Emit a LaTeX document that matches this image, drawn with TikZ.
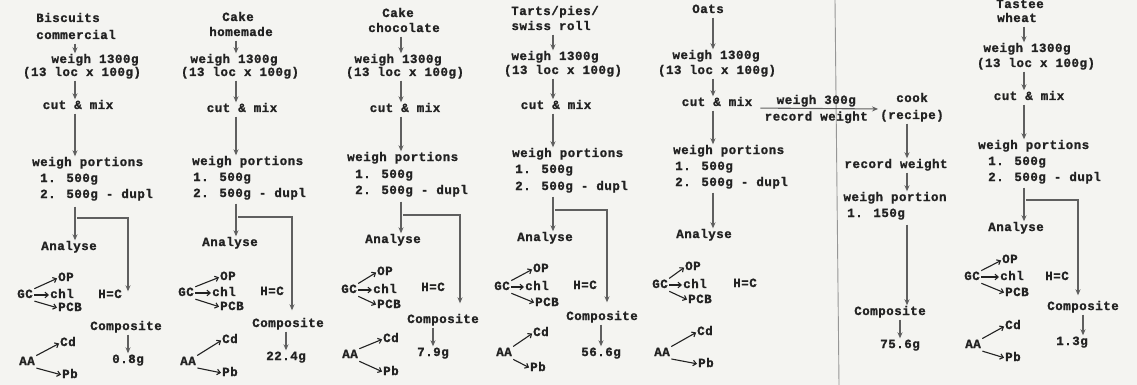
\documentclass[tikz,border=0pt]{standalone}
\usepackage{fontspec}
\newfontfamily\tw{Liberation Mono}[LetterSpace=4, BoldFeatures={FakeBold=1.2}]
\usetikzlibrary{arrows.meta,calc}
\definecolor{paper}{RGB}{244,244,241}
\definecolor{ink}{RGB}{34,34,34}
\definecolor{lin}{RGB}{95,95,95}
\definecolor{foldc}{RGB}{150,150,150}
\tikzset{
  tx/.style={inner sep=0pt, text height=8.5pt, text depth=2.5pt, text=ink,
    font={\tw\bfseries\fontsize{12.5}{16}\selectfont}},
  arr/.style={draw=lin, line width=1.1pt, -{Stealth[length=6pt,width=5pt]},
    shorten <=2pt, shorten >=1pt},
  br/.style={draw=lin, line width=1.6pt},
  sa/.style={draw=ink, line width=1.1pt, -{Straight Barb[length=3.2pt,width=5.5pt]},
    shorten <=1.5pt, shorten >=1pt}
}
\begin{document}
\begin{tikzpicture}[x=1pt,y=-1pt]
\useasboundingbox (0,0) rectangle (1137,385);
\fill[paper] (0,0) rectangle (1137,385);
\draw[foldc, line width=0.9pt] (835,0) -- (839,385);

% ---------- column 1 : Biscuits commercial
\coordinate (ax) at (75,0);
\node[tx] (a1) at (68,19) {Biscuits};
\node[tx] (a2) at (76,36) {commercial};
\node[tx] (a3) at (95,60) {weigh 1300g};
\node[tx] (a4) at (82,73) {(13 loc x 100g)};
\node[tx] (a5) at (78,106) {cut \& mix};
\node[tx,anchor=west] (a6) at (32,163) {weigh portions};
\node[tx,anchor=west] (a7) at (40,179) {1. 500g};
\node[tx,anchor=west] (a8) at (40,195) {2. 500g - dupl};
\node[tx] (a9) at (69,247) {Analyse};
\node[tx] (a10) at (25,295) {GC};
\node[tx,anchor=west] (a11) at (58,278) {OP};
\node[tx,anchor=west] (a12) at (50,295) {chl};
\node[tx,anchor=west] (a13) at (58,308) {PCB};
\node[tx] (a14) at (110,295) {H=C};
\node[tx] (a15) at (126,327) {Composite};
\node[tx] (a16) at (128,360) {0.8g};
\node[tx] (a17) at (27,362) {AA};
\node[tx,anchor=west] (a18) at (60,343) {Cd};
\node[tx,anchor=west] (a19) at (62,375) {Pb};
\draw[arr] (a2.south -| ax) -- (a3.north -| ax);
\draw[arr] (a4.south -| ax) -- (a5.north -| ax);
\draw[arr] (a5.south -| ax) -- (a6.north -| ax);
\draw[br,arr,shorten <=6pt] (a8.south -| ax) -- (a9.north -| ax);
\coordinate (aj) at (75,218); \coordinate (ak) at (128,218);
\draw[br,arr,shorten >=30pt] (aj) -- (ak) -- (ak |- a15.north);
\draw[arr] (a15.south -| a16) -- (a16.north);
\draw[sa] (a10.north east) -- (a11.west);
\draw[sa] (a10.east) -- (a12.west);
\draw[sa] (a10.south east) -- (a13.west);
\draw[sa] (a17.north east) -- (a18.west);
\draw[sa] (a17.south east) -- (a19.west);

% ---------- column 2 : Cake homemade
\coordinate (bx) at (236,0);
\node[tx] (b1) at (238,18) {Cake};
\node[tx] (b2) at (241,33) {homemade};
\node[tx] (b3) at (234,60) {weigh 1300g};
\node[tx] (b4) at (240,73) {(13 loc x 100g)};
\node[tx] (b5) at (242,109) {cut \& mix};
\node[tx,anchor=west] (b6) at (192,162) {weigh portions};
\node[tx,anchor=west] (b7) at (193,178) {1. 500g};
\node[tx,anchor=west] (b8) at (193,194) {2. 500g - dupl};
\node[tx] (b9) at (230,243) {Analyse};
\node[tx] (b10) at (186,293) {GC};
\node[tx,anchor=west] (b11) at (220,277) {OP};
\node[tx,anchor=west] (b12) at (212,293) {chl};
\node[tx,anchor=west] (b13) at (220,307) {PCB};
\node[tx] (b14) at (272,292) {H=C};
\node[tx] (b15) at (288,324) {Composite};
\node[tx] (b16) at (286,357) {22.4g};
\node[tx] (b17) at (188,362) {AA};
\node[tx,anchor=west] (b18) at (222,340) {Cd};
\node[tx,anchor=west] (b19) at (222,373) {Pb};
\draw[arr] (b2.south -| bx) -- (b3.north -| bx);
\draw[arr] (b4.south -| bx) -- (b5.north -| bx);
\draw[arr] (b5.south -| bx) -- (b6.north -| bx);
\draw[br,arr,shorten <=4pt] (b8.south -| bx) -- (b9.north -| bx);
\coordinate (bj) at (236,217); \coordinate (bk) at (292,217);
\draw[br,arr,shorten >=8pt] (bj) -- (bk) -- (bk |- b15.north);
\draw[arr] (b15.south -| b16) -- (b16.north);
\draw[sa] (b10.north east) -- (b11.west);
\draw[sa] (b10.east) -- (b12.west);
\draw[sa] (b10.south east) -- (b13.west);
\draw[sa] (b17.north east) -- (b18.west);
\draw[sa] (b17.south east) -- (b19.west);

% ---------- column 3 : Cake chocolate
\coordinate (cx) at (401,0);
\node[tx] (c1) at (398,14) {Cake};
\node[tx] (c2) at (404,29) {chocolate};
\node[tx] (c3) at (398,60) {weigh 1300g};
\node[tx] (c4) at (405,73) {(13 loc x 100g)};
\node[tx] (c5) at (405,109) {cut \& mix};
\node[tx,anchor=west] (c6) at (347,158) {weigh portions};
\node[tx,anchor=west] (c7) at (355,175) {1.  500g};
\node[tx,anchor=west] (c8) at (355,191) {2. 500g - dupl};
\node[tx] (c9) at (393,240) {Analyse};
\node[tx] (c10) at (349,290) {GC};
\node[tx,anchor=west] (c11) at (377,272) {OP};
\node[tx,anchor=west] (c12) at (373,290) {chl};
\node[tx,anchor=west] (c13) at (377,305) {PCB};
\node[tx] (c14) at (433,288) {H=C};
\node[tx] (c15) at (443,320) {Composite};
\node[tx] (c16) at (433,353) {7.9g};
\node[tx] (c17) at (350,355) {AA};
\node[tx,anchor=west] (c18) at (383,339) {Cd};
\node[tx,anchor=west] (c19) at (383,372) {Pb};
\draw[arr] (c2.south -| cx) -- (c3.north -| cx);
\draw[arr] (c4.south -| cx) -- (c5.north -| cx);
\draw[arr] (c5.south -| cx) -- (c6.north -| cx);
\draw[br,arr,shorten <=5pt] (c8.south -| cx) -- (c9.north -| cx);
\coordinate (cj) at (401,215); \coordinate (ck) at (460,215);
\draw[br,arr,shorten >=11pt] (cj) -- (ck) -- (ck |- c15.north);
\draw[arr] (c15.south -| c16) -- (c16.north);
\draw[sa] (c10.north east) -- (c11.west);
\draw[sa] (c10.east) -- (c12.west);
\draw[sa] (c10.south east) -- (c13.west);
\draw[sa] (c17.north east) -- (c18.west);
\draw[sa] (c17.south east) -- (c19.west);

% ---------- column 4 : Tarts/pies/swiss roll
\coordinate (dx) at (553,0);
\node[tx] (d1) at (555,12) {Tarts/pies/};
\node[tx] (d2) at (551,27) {swiss roll};
\node[tx] (d3) at (555,57) {weigh 1300g};
\node[tx] (d4) at (563,71) {(13 loc x 100g)};
\node[tx] (d5) at (556,106) {cut \& mix};
\node[tx,anchor=west] (d6) at (512,154) {weigh portions};
\node[tx,anchor=west] (d7) at (515,170) {1. 500g};
\node[tx,anchor=west] (d8) at (515,187) {2. 500g - dupl};
\node[tx] (d9) at (545,238) {Analyse};
\node[tx] (d10) at (502,287) {GC};
\node[tx,anchor=west] (d11) at (533,269) {OP};
\node[tx,anchor=west] (d12) at (525,287) {chl};
\node[tx,anchor=west] (d13) at (535,303) {PCB};
\node[tx] (d14) at (585,286) {H=C};
\node[tx] (d15) at (602,317) {Composite};
\node[tx] (d16) at (601,353) {56.6g};
\node[tx] (d17) at (504,353) {AA};
\node[tx,anchor=west] (d18) at (533,333) {Cd};
\node[tx,anchor=west] (d19) at (530,368) {Pb};
\draw[arr] (d2.south -| dx) -- (d3.north -| dx);
\draw[arr] (d4.south -| dx) -- (d5.north -| dx);
\draw[arr] (d5.south -| dx) -- (d6.north -| dx);
\draw[br,arr,shorten <=4pt] (d8.south -| dx) -- (d9.north -| dx);
\coordinate (dj) at (553,210); \coordinate (dk) at (607,210);
\draw[br,arr,shorten >=9pt] (dj) -- (dk) -- (dk |- d15.north);
\draw[arr] (d15.south -| d16) -- (d16.north);
\draw[sa] (d10.north east) -- (d11.west);
\draw[sa] (d10.east) -- (d12.west);
\draw[sa] (d10.south east) -- (d13.west);
\draw[sa] (d17.north east) -- (d18.west);
\draw[sa] (d17.south east) -- (d19.west);

% ---------- column 5 : Oats
\coordinate (ex) at (713,0);
\coordinate (fx2) at (907,0);
\node[tx] (e1) at (708,10) {Oats};
\node[tx] (e2) at (716,56) {weigh 1300g};
\node[tx] (e3) at (717,71) {(13 loc x 100g)};
\node[tx] (e4) at (717,103) {cut \& mix};
\node[tx,anchor=west] (e5) at (673,151) {weigh portions};
\node[tx,anchor=west] (e6) at (675,167) {1. 500g};
\node[tx,anchor=west] (e7) at (675,183) {2. 500g - dupl};
\node[tx] (e8) at (704,235) {Analyse};
\node[tx] (e9) at (660,285) {GC};
\node[tx,anchor=west] (e10) at (685,267) {OP};
\node[tx,anchor=west] (e11) at (683,285) {chl};
\node[tx,anchor=west] (e12) at (688,300) {PCB};
\node[tx] (e13) at (745,284) {H=C};
\node[tx] (e14) at (662,353) {AA};
\node[tx,anchor=west] (e15) at (697,332) {Cd};
\node[tx,anchor=west] (e16) at (698,364) {Pb};
\node[tx] (e17) at (912,99) {cook};
\node[tx] (e18) at (912,116) {(recipe)};
\node[tx] (e21) at (896,165) {record weight};
\node[tx] (e22) at (895,198) {weigh portion};
\node[tx,anchor=west] (e23) at (847,214) {1. 150g};
\node[tx] (e24) at (890,312) {Composite};
\node[tx] (e25) at (900,345) {75.6g};
\draw[arr] (e1.south -| ex) -- (e2.north -| ex);
\draw[arr] (e3.south -| ex) -- (e4.north -| ex);
\draw[arr] (e4.south -| ex) -- (e5.north -| ex);
\draw[arr,shorten <=4pt] (e7.south -| ex) -- (e8.north -| ex);
\draw[arr,shorten <=8pt,shorten >=2pt] ([yshift=-5pt]e4.east) --
  node[tx,midway,above=1.5pt] (e19) {weigh 300g}
  node[tx,midway,below=3pt] (e20) {record weight}
  ([yshift=7pt]e18.west);
\draw[arr] (e18.south -| fx2) -- (e21.north -| fx2);
\draw[arr] (e21.south -| fx2) -- (e22.north -| fx2);
\draw[arr,shorten <=5pt] (e23.south -| fx2) -- (e24.north -| fx2);
\draw[arr] (e24.south -| e25) -- (e25.north);
\draw[sa] (e9.north east) -- (e10.west);
\draw[sa] (e9.east) -- (e11.west);
\draw[sa] (e9.south east) -- (e12.west);
\draw[sa] (e14.north east) -- (e15.west);
\draw[sa] (e14.south east) -- (e16.west);

% ---------- column 6 : Tastee wheat
\coordinate (gx) at (1024,0);
\node[tx] (g1) at (1020,5) {Tastee};
\node[tx] (g2) at (1017,19) {wheat};
\node[tx] (g3) at (1027,49) {weigh 1300g};
\node[tx] (g4) at (1036,64) {(13 loc x 100g)};
\node[tx] (g5) at (1029,97) {cut \& mix};
\node[tx,anchor=west] (g6) at (978,146) {weigh portions};
\node[tx,anchor=west] (g7) at (988,162) {1. 500g};
\node[tx,anchor=west] (g8) at (988,178) {2. 500g - dupl};
\node[tx] (g9) at (1016,228) {Analyse};
\node[tx] (g10) at (972,277) {GC};
\node[tx,anchor=west] (g11) at (1002,260) {OP};
\node[tx,anchor=west] (g12) at (1000,277) {chl};
\node[tx,anchor=west] (g13) at (1005,293) {PCB};
\node[tx] (g14) at (1057,277) {H=C};
\node[tx] (g15) at (1083,307) {Composite};
\node[tx] (g16) at (1072,342) {1.3g};
\node[tx] (g17) at (973,345) {AA};
\node[tx,anchor=west] (g18) at (1005,326) {Cd};
\node[tx,anchor=west] (g19) at (1005,358) {Pb};
\draw[arr] (g2.south -| gx) -- (g3.north -| gx);
\draw[arr] (g4.south -| gx) -- (g5.north -| gx);
\draw[arr] (g5.south -| gx) -- (g6.north -| gx);
\draw[br,arr,shorten <=4pt] (g8.south -| gx) -- (g9.north -| gx);
\coordinate (gj) at (1024,200); \coordinate (gk) at (1078,200);
\draw[br,arr,shorten >=6pt] (gj) -- (gk) -- (gk |- g15.north);
\draw[arr] (g15.south -| g15) -- (g16.north -| g15);
\draw[sa] (g10.north east) -- (g11.west);
\draw[sa] (g10.east) -- (g12.west);
\draw[sa] (g10.south east) -- (g13.west);
\draw[sa] (g17.north east) -- (g18.west);
\draw[sa] (g17.south east) -- (g19.west);
\end{tikzpicture}
\end{document}
